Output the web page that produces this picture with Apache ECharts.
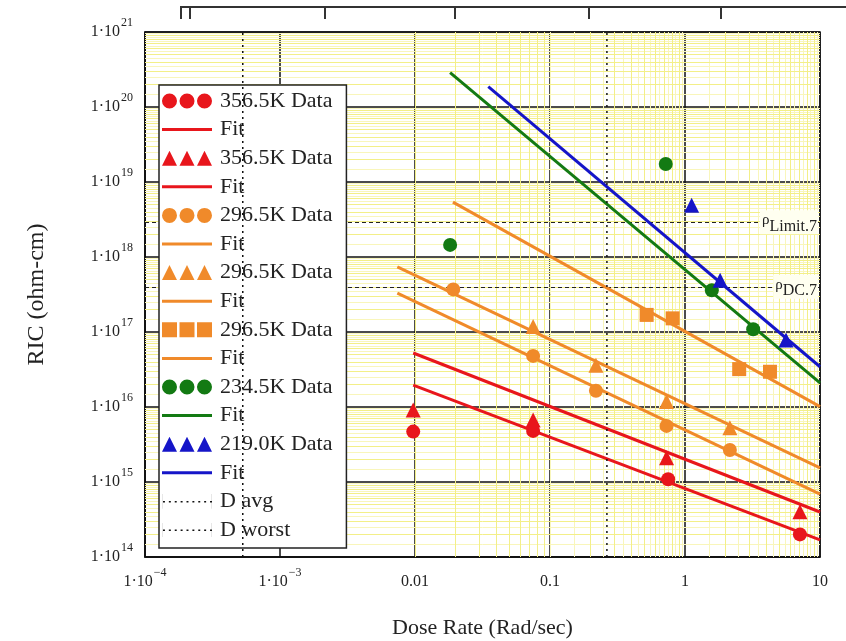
<!DOCTYPE html>
<html>
<head>
<meta charset="utf-8">
<script src="https://cdn.jsdelivr.net/npm/echarts@6/dist/echarts.min.js"></script>
<style>html,body{margin:0;padding:0;background:#fff}#c{width:846px;height:641px}</style>
</head>
<body>
<div id="c"></div>
<script>
// ---- tick labels ----
const xTickLabels = [['1·10','−4'],['1·10','−3'],['0.01',''],['0.1',''],['1',''],['10','']];
const yTickLabels = [['1·10','14'],['1·10','15'],['1·10','16'],['1·10','17'],['1·10','18'],['1·10','19'],['1·10','20'],['1·10','21']];

// ---- data: [dose rate (Rad/sec), RIC (ohm-cm)] ----
const red356Circle = [[0.0097,4.7e15],[0.075,4.8e15],[0.75,1.09e15],[7.1,2.0e14]];
const red356CircleFit = [[0.0097,1.96e16],[10,1.69e14]];
const red356Tri = [[0.0097,9.1e15],[0.075,6.7e15],[0.73,2.1e15],[7.1,4.0e14]];
const red356TriFit = [[0.0097,5.25e16],[10,3.98e14]];
const org296Circle = [[0.0192,3.7e17],[0.075,4.8e16],[0.219,1.65e16],[0.73,5.6e15],[2.15,2.67e15]];
const org296CircleFit = [[0.0074,3.3e17],[10,6.9e14]];
const org296Tri = [[0.075,1.18e17],[0.219,3.6e16],[0.73,1.18e16],[2.15,5.3e15]];
const org296TriFit = [[0.0074,7.4e17],[10,1.54e15]];
const org296Sq = [[0.52,1.69e17],[0.81,1.52e17],[2.52,3.2e16],[4.26,2.95e16]];
const org296SqFit = [[0.0191,5.4e18],[10,1.01e16]];
const grn234Circle = [[0.0182,1.45e18],[0.72,1.74e19],[1.58,3.6e17],[3.2,1.09e17]];
const grn234Fit = [[0.0182,2.87e20],[10,2.1e16]];
const blu219Tri = [[1.12,4.9e18],[1.82,4.9e17],[5.6,7.8e16]];
const blu219Fit = [[0.0349,1.87e20],[10,3.44e16]];
const dAvg = 5.3e-4;
const dWorst = 0.264;
const yRange = [1e14, 1e21];
const xRange = [1e-4, 10];
const rhoLimit = 2.9e18;
const rhoDC = 4.0e17;
const rhoLabels = [['ρ','Limit.7'],['ρ','DC.7']];

const FONT = 'Liberation Serif';
const RED = '#e8161c', ORG = '#f08a2a', GRN = '#137a13', BLU = '#1515c8';

// minor (yellow) log grid positions
const minorXa = [], minorYa = [], minorXb = [], minorYb = [];
for (let k = -4; k < 1; k++) for (let m = 2; m < 10; m++) minorXa.push({xAxis: m * Math.pow(10, k)});
for (let k = 14; k < 21; k++) for (let m = 2; m < 10; m++) minorYa.push({yAxis: m * Math.pow(10, k)});
for (let k = -4; k < 1; k++) for (let m = 1.5; m < 10; m++) minorXb.push({xAxis: m * Math.pow(10, k)});
for (let k = 14; k < 21; k++) for (let m = 1.5; m < 10; m++) minorYb.push({yAxis: m * Math.pow(10, k)});

let zw = 0;
function uniq(n) { zw++; return n + '\u200b'.repeat(zw); }

const ICON_CIRC = 'path://M0,7.5a7.5,7.5 0 1,0 15,0a7.5,7.5 0 1,0 -15,0ZM17.5,7.5a7.5,7.5 0 1,0 15,0a7.5,7.5 0 1,0 -15,0ZM35,7.5a7.5,7.5 0 1,0 15,0a7.5,7.5 0 1,0 -15,0Z';
const ICON_TRI = 'path://M0,15L7.5,0L15,15ZM17.5,15L25,0L32.5,15ZM35,15L42.5,0L50,15Z';
const ICON_SQ = 'path://M0,0h15v15h-15ZM17.5,0h15v15h-15ZM35,0h15v15h-15Z';
const ICON_LINE = 'path://M0,6h50v3h-50Z';
let dots = 'path://M0,0h0.1v15h-0.1Z';
for (let i = 0; i < 9; i++) dots += 'M' + (i * 6 + 1) + ',7h2v1.6h-2Z';
dots += 'M50,0h0.1v15h-0.1Z';
const ICON_DOT = dots;

const series = [];
const legendData = [];
function scat(name, data, color, symbol, size, icon) {
  const n = uniq(name);
  series.push({name: n, type: 'scatter', data: data, symbol: symbol, symbolSize: size,
    itemStyle: {color: color, opacity: 1}, z: 4});
  legendData.push({name: n, icon: icon, itemStyle: {color: color}});
}
function fit(data, color) {
  const n = uniq('Fit');
  series.push({name: n, type: 'line', data: data, symbol: 'none', showSymbol: false,
    lineStyle: {color: color, width: 3}, itemStyle: {color: color}, z: 3});
  legendData.push({name: n, icon: ICON_LINE, itemStyle: {color: color}});
}
function vline(name, x) {
  const n = uniq(name);
  series.push({name: n, type: 'line', data: [[x, yRange[0]], [x, yRange[1]]], symbol: 'none', showSymbol: false,
    lineStyle: {color: '#111', width: 1.5, type: [2, 4]}, itemStyle: {color: '#111'}, z: 10});
  legendData.push({name: n, icon: ICON_DOT, itemStyle: {color: '#111'}});
}

// yellow minor grid (decoration)
series.push({name: 'minorgridB', type: 'line', data: [], silent: true, z: 1,
  markLine: {silent: true, symbol: 'none', animation: false, z: 1, label: {show: false},
    lineStyle: {color: '#f9f6bb', width: 1, type: 'solid'}, data: minorXb.concat(minorYb)}});
series.push({name: 'minorgridA', type: 'line', data: [], silent: true, z: 1,
  markLine: {silent: true, symbol: 'none', animation: false, z: 1, label: {show: false},
    lineStyle: {color: '#f3ef88', width: 1, type: 'solid'}, data: minorXa.concat(minorYa)}});

scat('356.5K Data', red356Circle, RED, 'circle', 14, ICON_CIRC);
fit(red356CircleFit, RED);
scat('356.5K Data', red356Tri, RED, 'triangle', 15, ICON_TRI);
fit(red356TriFit, RED);
scat('296.5K Data', org296Circle, ORG, 'circle', 14, ICON_CIRC);
fit(org296CircleFit, ORG);
scat('296.5K Data', org296Tri, ORG, 'triangle', 15, ICON_TRI);
fit(org296TriFit, ORG);
scat('296.5K Data', org296Sq, ORG, 'rect', 14, ICON_SQ);
fit(org296SqFit, ORG);
scat('234.5K Data', grn234Circle, GRN, 'circle', 14, ICON_CIRC);
fit(grn234Fit, GRN);
scat('219.0K Data', blu219Tri, BLU, 'triangle', 15, ICON_TRI);
fit(blu219Fit, BLU);
vline('D avg', dAvg);
vline('D worst', dWorst);

// rho reference lines
function rhoLine(y, lab) {
  return {yAxis: y, label: {show: true, position: 'insideEnd', distance: 2,
    formatter: '{r|' + lab[0] + '}{s|' + lab[1] + '}', backgroundColor: '#fffff0', padding: [0, 1, 0, 2],
    rich: {r: {fontFamily: FONT, fontSize: 15, color: '#222', verticalAlign: 'middle', padding: [0, 0, 4, 0]},
           s: {fontFamily: FONT, fontSize: 16, color: '#222', verticalAlign: 'middle', padding: [8, 0, 0, 0]}}}};
}
series.push({name: 'rho', type: 'line', data: [], z: 1,
  markLine: {silent: true, symbol: 'none', animation: false, z: 1,
    lineStyle: {color: '#222', width: 1.2, type: [4, 3]},
    data: [rhoLine(rhoLimit, rhoLabels[0]), rhoLine(rhoDC, rhoLabels[1])]}});

const chart = echarts.init(document.getElementById('c'), null, {renderer: 'canvas'});
chart.setOption({
  animation: false,
  backgroundColor: '#fff',
  grid: {left: 145, right: 26, top: 32, bottom: 84, show: true, borderColor: '#111', borderWidth: 1.5,
         backgroundColor: '#fff', containLabel: false, outerBoundsMode: 'none'},
  xAxis: {
    type: 'log', logBase: 10, min: xRange[0], max: xRange[1], interval: 1,
    name: 'Dose Rate (Rad/sec)', nameLocation: 'middle', nameGap: 60,
    nameTextStyle: {fontFamily: FONT, fontSize: 22, color: '#222'},
    axisLine: {show: true, lineStyle: {color: '#111', width: 1.5}},
    axisTick: {show: false},
    splitLine: {show: true, lineStyle: {color: '#111', width: 1.5}},
    axisLabel: {
      margin: 10, color: '#222',
      formatter: function (v) {
        const i = Math.round(Math.log10(v)) + 4;
        const t = xTickLabels[i];
        return t[1] ? '{b|' + t[0] + '}{e|' + t[1] + '}' : '{b|' + t[0] + '}';
      },
      rich: {b: {fontFamily: FONT, fontSize: 16, lineHeight: 30, color: '#222', verticalAlign: 'middle'},
             e: {fontFamily: FONT, fontSize: 12, color: '#222', verticalAlign: 'middle', padding: [0, 0, 18, 1]}}
    }
  },
  yAxis: {
    type: 'log', logBase: 10, min: yRange[0], max: yRange[1], interval: 1,
    name: 'RIC (ohm-cm)', nameLocation: 'middle', nameGap: 96,
    nameTextStyle: {fontFamily: FONT, fontSize: 24, color: '#222'},
    axisLine: {show: true, lineStyle: {color: '#111', width: 1.5}},
    axisTick: {show: false},
    splitLine: {show: true, lineStyle: {color: '#111', width: 1.5}},
    axisLabel: {
      margin: 12, color: '#222',
      formatter: function (v) {
        const i = Math.round(Math.log10(v)) - 14;
        const t = yTickLabels[i];
        return '{b|' + t[0] + '}{e|' + t[1] + '}';
      },
      rich: {b: {fontFamily: FONT, fontSize: 16, lineHeight: 30, color: '#222', verticalAlign: 'middle'},
             e: {fontFamily: FONT, fontSize: 12, color: '#222', verticalAlign: 'middle', padding: [0, 0, 18, 1]}}
    }
  },
  legend: {
    orient: 'vertical', left: 159, top: 85, selectedMode: false, z: 2,
    backgroundColor: '#fff', borderColor: '#222', borderWidth: 1.5,
    padding: [5, 14, 7, 3], itemWidth: 50, itemHeight: 15, itemGap: 6.6,
    formatter: function (n) { return n.replace(/\u200b/g, ''); },
    textStyle: {fontFamily: FONT, fontSize: 22, color: '#222', padding: [0, 0, 0, 3]},
    data: legendData
  },
  graphic: [
    {type: 'polyline', shape: {points: [[181, 19], [181, 7], [846, 7]]}, style: {stroke: '#333', lineWidth: 2, fill: null}},
    {type: 'line', shape: {x1: 190, y1: 7, x2: 190, y2: 19}, style: {stroke: '#333', lineWidth: 2}},
    {type: 'line', shape: {x1: 325, y1: 7, x2: 325, y2: 19}, style: {stroke: '#333', lineWidth: 2}},
    {type: 'line', shape: {x1: 455, y1: 7, x2: 455, y2: 19}, style: {stroke: '#333', lineWidth: 2}},
    {type: 'line', shape: {x1: 589, y1: 7, x2: 589, y2: 19}, style: {stroke: '#333', lineWidth: 2}},
    {type: 'line', shape: {x1: 721, y1: 7, x2: 721, y2: 19}, style: {stroke: '#333', lineWidth: 2}}
  ],
  series: series
});
</script>
</body>
</html>
